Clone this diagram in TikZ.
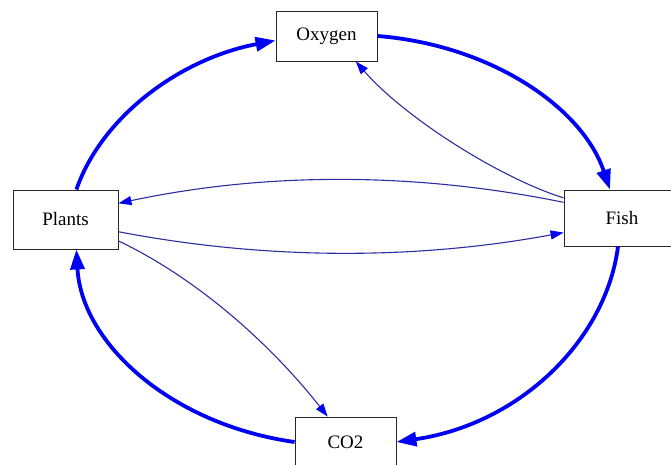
\documentclass[tikz,border=0pt]{standalone}
\usepackage{fontspec}
\setmainfont{Liberation Serif}
\usetikzlibrary{arrows.meta}
\definecolor{flowblue}{RGB}{0,0,245}
\definecolor{thinblue}{RGB}{45,45,160}
\begin{document}
\begin{tikzpicture}[x=1pt,y=-1pt,
  box/.style={draw=black!85, line width=0.9pt, rectangle, inner sep=0pt,
    font=\fontsize{19}{21}\selectfont},
  mainflow/.style={draw=flowblue, line width=3.8pt,
    -{Triangle[length=20pt,width=14pt,color=flowblue]}},
  sideflow/.style={draw=thinblue, line width=1.1pt,
    -{Triangle[length=13pt,width=9pt,color=flowblue]}}]

\useasboundingbox (0,0) rectangle (671,465);
\fill[white] (0,0) rectangle (671,465);

% boxes
\node[box, minimum width=101pt, minimum height=50pt] (oxy) at (326.5,36) {Oxygen};
\node[box, minimum width=105pt, minimum height=59pt] (plants) at (65.5,219.5) {Plants};
\node[box, minimum width=116pt, minimum height=56pt] (fish) at (622,218) {Fish};
\node[box, minimum width=101pt, minimum height=50pt] (co2) at (345.5,442) {CO2};

% outer cycle
\draw[mainflow] (plants.70) .. controls (101.4,117.3) and (179,59) .. (oxy.185);
\draw[mainflow] (oxy.east) .. controls (490.6,44.9) and (582.4,107.3) .. (fish.113);
\draw[mainflow] (fish.262) .. controls (606,340) and (520,424) .. (co2.east);
\draw[mainflow] (co2.west) .. controls (171,424.6) and (81.6,343.4) .. (plants.-70);

% inner exchanges
\draw[sideflow] (fish.161) .. controls (500,178) and (405,118) .. (oxy.-41);
\draw[sideflow] (fish.165) .. controls (415,172) and (266,172) .. (plants.17);
\draw[sideflow] (plants.-13) .. controls (266,260) and (415,260) .. (fish.194);
\draw[sideflow] (plants.-22) .. controls (200,280) and (272,346) .. (co2.125);
\end{tikzpicture}
\end{document}
